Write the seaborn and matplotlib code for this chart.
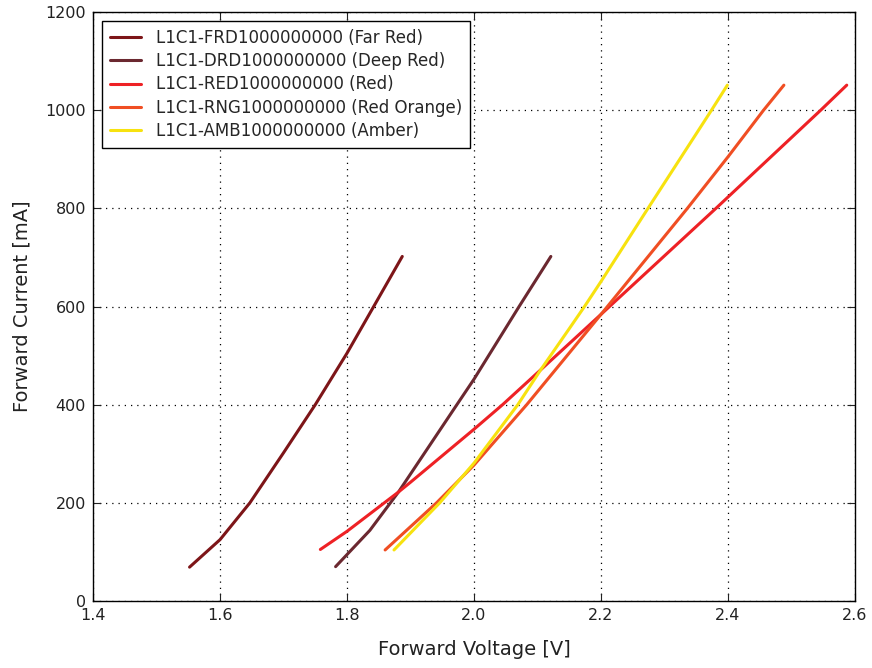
import numpy as np
import pandas as pd
import matplotlib
matplotlib.use("Agg")
import matplotlib.pyplot as plt
import seaborn as sns

# data (Forward Voltage [V], Forward Current [mA])
frd_v = [1.552, 1.60, 1.647, 1.70, 1.75, 1.80, 1.842, 1.887]
frd_i = [69, 125, 200, 302, 400, 505, 600, 702]

drd_v = [1.782, 1.836, 1.881, 1.973, 2.0, 2.071, 2.121]
drd_i = [70, 144, 222, 400, 452, 600, 702]

red_v = [1.758, 1.80, 1.881, 1.90, 2.00, 2.045, 2.105, 2.20, 2.381, 2.546, 2.587]
red_i = [105, 142, 222, 242, 350, 400, 471, 584, 800, 1000, 1051]

rng_v = [1.860, 1.941, 2.00, 2.083, 2.20, 2.336, 2.40, 2.456, 2.488]
rng_i = [104, 200, 277, 400, 584, 800, 905, 1000, 1051]

amb_v = [1.874, 1.946, 2.00, 2.069, 2.105, 2.149, 2.174, 2.20, 2.274, 2.374, 2.399]
amb_i = [104, 200, 281, 400, 471, 553, 600, 651, 800, 1000, 1051]

labels = ["L1C1-FRD1000000000 (Far Red)",
          "L1C1-DRD1000000000 (Deep Red)",
          "L1C1-RED1000000000 (Red)",
          "L1C1-RNG1000000000 (Red Orange)",
          "L1C1-AMB1000000000 (Amber)"]
colors = ["#7d1518", "#6b2830", "#ee2125", "#f04e23", "#f7e20f"]

series = [(frd_v, frd_i), (drd_v, drd_i), (red_v, red_i), (rng_v, rng_i), (amb_v, amb_i)]
frames = []
for lab, (v, i) in zip(labels, series):
    frames.append(pd.DataFrame({"V": v, "I": i, "led": lab}))
df = pd.concat(frames, ignore_index=True)

sns.set_style("ticks")
plt.rcParams['font.family'] = ['DejaVu Sans']

fig = plt.figure(figsize=(8.72, 6.68), dpi=100)
ax = fig.add_axes([0.1067, 0.1003, 0.8738, 0.8817])

sns.lineplot(data=df, x="V", y="I", hue="led", palette=colors, hue_order=labels,
             sort=False, estimator=None, linewidth=2.2, ax=ax)

ax.set_xlim(1.4, 2.6)
ax.set_ylim(0, 1200)
ax.set_xticks(np.arange(1.4, 2.61, 0.2))
ax.set_yticks(np.arange(0, 1201, 200))
ax.set_xticklabels(["1.4", "1.6", "1.8", "2.0", "2.2", "2.4", "2.6"])
ax.tick_params(direction="in", top=True, right=True, length=6, labelsize=11.5,
               colors="#222222", pad=5)
ax.grid(True, color="black", linestyle=(0, (1, 4)), linewidth=0.9)
for s in ax.spines.values():
    s.set_color("black")
    s.set_linewidth(1.0)

ax.set_xlabel("Forward Voltage [V]", fontsize=14, color="#222222", labelpad=12)
ax.set_ylabel("Forward Current [mA]", fontsize=14, color="#222222", labelpad=10)

leg = ax.legend(loc="upper left", fontsize=12, frameon=True, fancybox=False,
                edgecolor="black", framealpha=1, handlelength=1.9,
                borderpad=0.45, labelspacing=0.32, handletextpad=0.9,
                bbox_to_anchor=(0.0, 1.0), borderaxespad=0.55)
leg.get_frame().set_linewidth(1.0)

fig.savefig("out.png", dpi=100)
